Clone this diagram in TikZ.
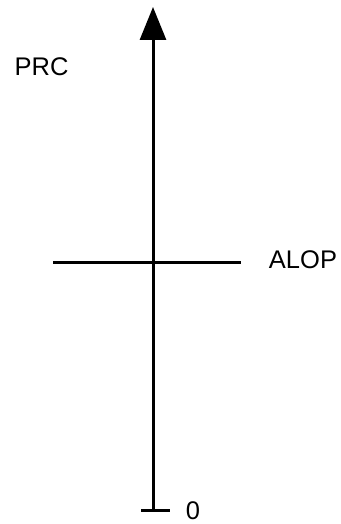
\documentclass[tikz,border=0pt]{standalone}
\usepackage{fontspec}
\setmainfont{Liberation Sans}
\usetikzlibrary{arrows.meta}
\begin{document}
\begin{tikzpicture}[x=1pt,y=1pt,
  axisline/.style={line width=3pt,draw=black},
  lbl/.style={inner sep=0pt,font=\fontsize{25.5}{28}\selectfont}]
\useasboundingbox (0,-524) rectangle (340,0);
\coordinate (bot) at (153,-510);
\coordinate (top) at (153,-7);
\coordinate (tl) at (141,-510);
\coordinate (tr) at (170,-510);
\coordinate (hl) at (53,-262);
\coordinate (hr) at (241,-262);
\draw[axisline,-{Triangle[length=33pt,width=26pt]}] (bot) -- (top);
\draw[axisline] (tl) -- (tr);
\draw[axisline] (hl) -- (hr);
\node[lbl] (prc) at (41.5,-67) {PRC};
\node[lbl] (alop) at (303,-260) {ALOP};
\node[lbl] (zero) at (193,-510.5) {0};
\end{tikzpicture}
\end{document}
